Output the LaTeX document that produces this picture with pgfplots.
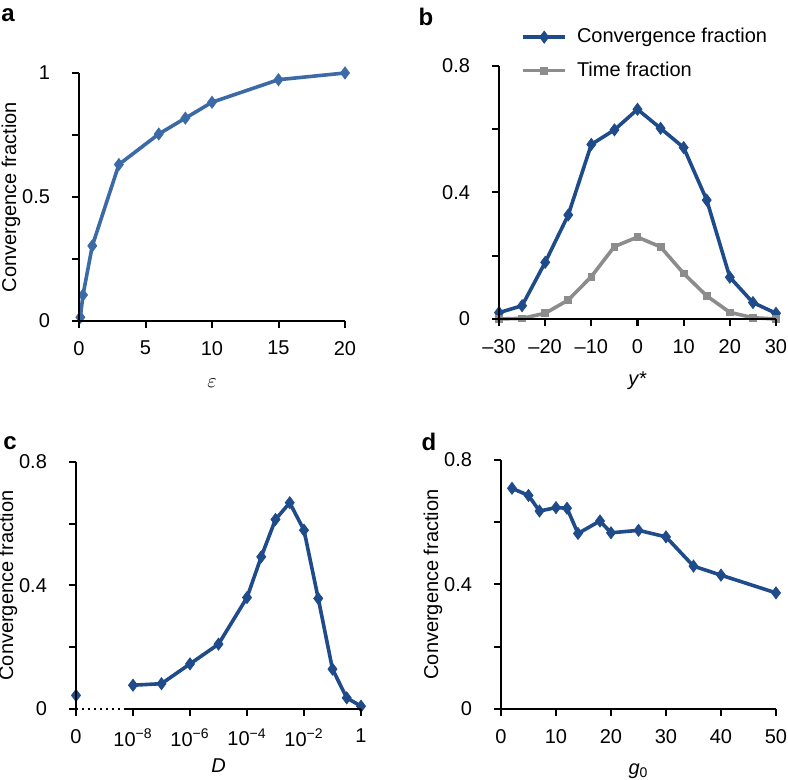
\documentclass[border=0pt]{standalone}
\usepackage{fontspec}
\setmainfont{Liberation Sans}
\usepackage{pgfplots}
\pgfplotsset{compat=1.18}

\definecolor{steel}{HTML}{3C6AA6}
\definecolor{navy}{HTML}{1F4B8B}
\definecolor{midgray}{HTML}{8C8C8C}

\tikzset{axln/.style={black, line width=1pt, dash pattern=on 500pt off 0.1pt}}

\pgfplotsset{
  panel/.style={
    scale only axis, anchor=south west, clip=false,
    axis x line*=bottom, axis y line*=left,
    axis line style={axln},
    tick align=outside, major tick length=3.5pt, minor tick length=3.5pt,
    tick style={axln},
    tick label style={font=\fontsize{10}{12}\selectfont},
    /pgf/number format/assume math mode=true,
    /pgf/number format/fixed,
    xticklabel style={yshift=-3pt},
    yticklabel style={xshift=-7.5pt},
    label style={font=\fontsize{10}{12}\selectfont},
    every axis x label/.style={at={(axis description cs:0.5,0)}, anchor=center, yshift=-31pt},
    every axis y label/.style={at={(axis description cs:0,0.5)}, xshift=-34pt, anchor=center, rotate=90},
  },
  dline/.style={#1, line width=1.8pt, mark=diamond*, mark size=3pt, mark options={solid, line width=0.4pt}},
}

% axis frame: x0, y0, width, height (pt), x tick fractions, y tick fractions
\newcommand{\frameaxes}[6]{%
  \begin{scope}[shift={(#1pt,#2pt)}]
    \draw[axln] (#3pt,0) -- (0,0) -- (0,#4pt);
    \foreach \f in {#5} \draw[axln] (\f*#3pt,0) -- (\f*#3pt,-3.5pt);
    \foreach \f in {#6} \draw[axln] (0,\f*#4pt) -- (-3.5pt,\f*#4pt);
  \end{scope}}

\begin{document}
\begin{tikzpicture}
\useasboundingbox (0,0) rectangle (394pt,390pt);

% a
\begin{axis}[panel, at={(39.5pt,229.5pt)}, width=133pt, height=124pt,
  xmin=0, xmax=20, ymin=0, ymax=1,
  xtick={0,5,10,15,20}, ytick={0,0.5,1}, minor ytick={0.25,0.75},
  xlabel={$\varepsilon$}, ylabel={Convergence fraction}]
\addplot[dline=steel] coordinates {
  (0.1,0.015) (0.3,0.105) (1,0.303) (3,0.631) (6,0.754) (8,0.818) (10,0.882) (15,0.973) (20,1.0)};
\end{axis}
\frameaxes{39.5}{229.5}{133}{124}{0,0.25,0.5,0.75,1}{0,0.25,0.5,0.75,1}

% b
\begin{axis}[panel, at={(249.5pt,230.5pt)}, width=138.5pt, height=126.5pt,
  xmin=-30, xmax=30, ymin=0, ymax=0.8,
  xtick={-30,-20,...,30}, xticklabels={–30,–20,–10,0,10,20,30},
  ytick={0,0.4,0.8}, minor ytick={0.2,0.6},
  xlabel={\textit{y*}},
  legend cell align=left,
  legend style={draw=none, fill=none, inner sep=0pt, row sep=4pt,
    at={(axis description cs:0,1)}, anchor=north west, xshift=11pt, yshift=21pt,
    font=\fontsize{10}{12}\selectfont},
  legend image code/.code={\draw[mark repeat=2, mark phase=2, #1] plot coordinates {(0pt,0pt) (10.5pt,0pt) (21pt,0pt)}; \path (24pt,0pt);}]
\addplot[dline=navy] coordinates {
  (-30,0.020) (-25,0.042) (-20,0.179) (-15,0.329) (-10,0.552) (-5,0.598) (0,0.663)
  (5,0.603) (10,0.542) (15,0.376) (20,0.132) (25,0.052) (30,0.018)};
\addlegendentry{Convergence fraction}
\addplot[midgray, line width=1.8pt, mark=square*, mark size=1.7pt, mark options={solid, line width=0.4pt}] coordinates {
  (-30,0.0) (-25,0.002) (-20,0.018) (-15,0.060) (-10,0.134) (-5,0.229) (0,0.259)
  (5,0.228) (10,0.144) (15,0.073) (20,0.021) (25,0.004) (30,0.0)};
\addlegendentry{Time fraction}
\end{axis}
\frameaxes{249.5}{230.5}{138.5}{126.5}{0,0.16667,0.33333,0.5,0.66667,0.83333,1}{0,0.25,0.5,0.75,1}

% c
\begin{axis}[panel, at={(38pt,35.5pt)}, width=142.5pt, height=123.5pt,
  xmin=-10, xmax=0, ymin=0, ymax=0.8,
  x axis line style={draw=none},
  xtick={-10,-8,-6,-4,-2,0},
  xticklabels={0,{10\textsuperscript{−8}},{10\textsuperscript{−6}},{10\textsuperscript{−4}},{10\textsuperscript{−2}},1},
  ytick={0,0.4,0.8}, minor ytick={0.2,0.6},
  xlabel={\textit{D}}, ylabel={Convergence fraction},
  every axis x label/.append style={yshift=2.5pt}]
\addplot[dline=navy, only marks] coordinates {(-10,0.044)};
\addplot[dline=navy] coordinates {
  (-8,0.077) (-7,0.082) (-6,0.146) (-5,0.210) (-4,0.361) (-3.5,0.493) (-3,0.614)
  (-2.5,0.668) (-2,0.579) (-1.5,0.358) (-1,0.129) (-0.5,0.036) (0,0.009)};
\end{axis}
\begin{scope}[shift={(38pt,35.5pt)}]
  \draw[axln] (0,0) -- (0,123.5pt);
  \draw[black, line width=1pt, dotted] (0,0) -- (24pt,0);
  \draw[axln] (24pt,0) -- (142.5pt,0);
  \foreach \f in {0,0.2,0.4,0.6,0.8,1} \draw[axln] (\f*142.5pt,0) -- (\f*142.5pt,-3.5pt);
  \foreach \f in {0,0.25,0.5,0.75,1} \draw[axln] (0,\f*123.5pt) -- (-3.5pt,\f*123.5pt);
\end{scope}

% d
\begin{axis}[panel, at={(250.5pt,35.5pt)}, width=137.5pt, height=124.5pt,
  xmin=0, xmax=50, ymin=0, ymax=0.8,
  xtick={0,10,...,50},
  ytick={0,0.4,0.8}, minor ytick={0.2,0.6},
  xlabel={\textit{g}\textsubscript{0}}, ylabel={Convergence fraction}]
\addplot[dline=navy] coordinates {
  (2,0.709) (5,0.686) (7,0.636) (10,0.647) (12,0.645) (14,0.564) (18,0.604)
  (20,0.566) (25,0.574) (30,0.553) (35,0.459) (40,0.430) (50,0.373)};
\end{axis}
\frameaxes{250.5}{35.5}{137.5}{124.5}{0,0.2,0.4,0.6,0.8,1}{0,0.25,0.5,0.75,1}

\node[font=\fontsize{12}{12}\selectfont\bfseries] at (4pt,382.5pt) {a};
\node[font=\fontsize{12}{12}\selectfont\bfseries] at (213pt,381.5pt) {b};
\node[font=\fontsize{12}{12}\selectfont\bfseries] at (5pt,168.5pt) {c};
\node[font=\fontsize{12}{12}\selectfont\bfseries] at (214.5pt,169pt) {d};
\end{tikzpicture}
\end{document}
